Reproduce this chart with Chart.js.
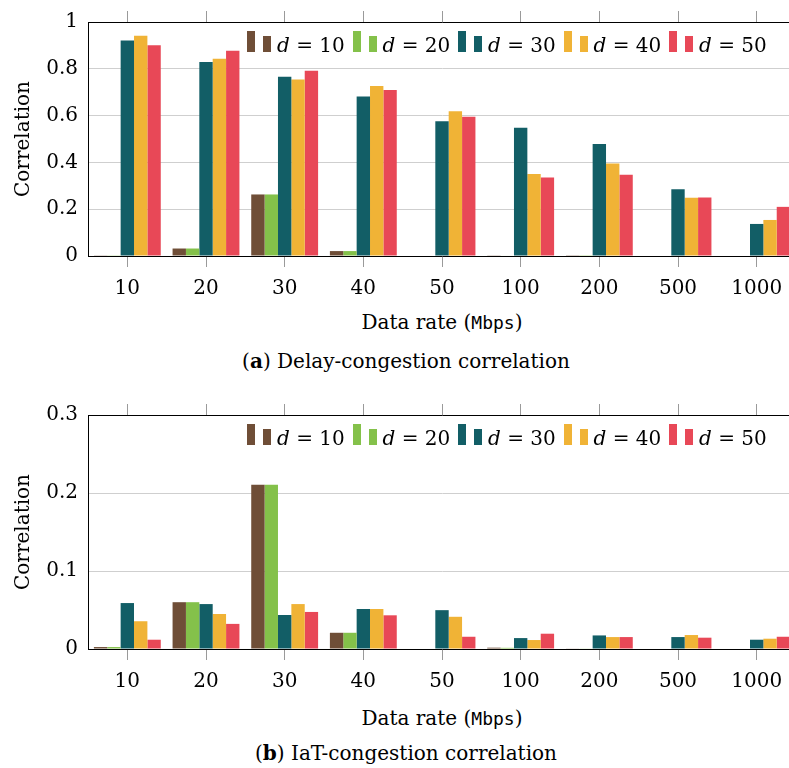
<!DOCTYPE html>
<html>
<head>
<meta charset="utf-8">
<script src="https://cdn.jsdelivr.net/npm/chart.js@4.4.0/dist/chart.umd.min.js"></script>
<style>
html, body { margin: 0; padding: 0; background: #fff; width: 789px; height: 768px; overflow: hidden; }
.panel { position: absolute; left: 0; width: 800px; height: 300px; }
canvas { display: block; }
.txt { position: absolute; font-family: 'DejaVu Serif', serif; font-size: 20px; line-height: 24px; color: #000; white-space: nowrap; transform: translateX(-50%); }
.mono { font-family: 'DejaVu Sans Mono', monospace; font-size: 18px; }
.legend { position: absolute; font-family: 'DejaVu Serif', serif; font-size: 20px; line-height: 24px; white-space: nowrap; }
.entry { display: inline-block; width: 105.5px; }
.sw { display: inline-block; width: 8px; vertical-align: baseline; }
.sw + .sw { margin-left: 8px; margin-right: 6px; }
</style>
</head>
<body>
<div class="panel" style="top:0"><canvas id="delay" width="800" height="300"></canvas></div>
<div class="legend" id="legDelay" style="left:247px;top:31px"></div>
<div class="txt" style="left:442px;top:310px">Data rate (<span class="mono">Mbps</span>)</div>
<div class="txt" style="left:406px;top:349px">(<b>a</b>) Delay-congestion correlation</div>

<div class="panel" style="top:393px"><canvas id="iat" width="800" height="300"></canvas></div>
<div class="legend" id="legIat" style="left:247px;top:424px"></div>
<div class="txt" style="left:442px;top:706px">Data rate (<span class="mono">Mbps</span>)</div>
<div class="txt" style="left:406px;top:741px">(<b>b</b>) IaT-congestion correlation</div>

<script>
var rates = ['10', '20', '30', '40', '50', '100', '200', '500', '1000'];
var dValues = ['10', '20', '30', '40', '50'];
var colors = ['#6f4e37', '#84c14a', '#125e66', '#f0b336', '#e84857'];

// (a) delay-congestion correlation, one array per d
var delayD10 = [0.003, 0.032, 0.263, 0.021, 0.000, 0.003, 0.001, 0.000, 0.000];
var delayD20 = [0.003, 0.032, 0.263, 0.021, 0.000, 0.002, 0.001, 0.000, 0.000];
var delayD30 = [0.921, 0.829, 0.766, 0.682, 0.576, 0.548, 0.479, 0.285, 0.137];
var delayD40 = [0.941, 0.843, 0.754, 0.726, 0.619, 0.350, 0.395, 0.249, 0.154];
var delayD50 = [0.901, 0.877, 0.792, 0.709, 0.595, 0.336, 0.347, 0.250, 0.210];

// (b) IaT-congestion correlation
var iatD10 = [0.0025, 0.0600, 0.2106, 0.0208, 0.0000, 0.0017, 0.0005, 0.0000, 0.0000];
var iatD20 = [0.0025, 0.0600, 0.2106, 0.0208, 0.0000, 0.0015, 0.0005, 0.0000, 0.0000];
var iatD30 = [0.0589, 0.0576, 0.0436, 0.0513, 0.0498, 0.0140, 0.0174, 0.0153, 0.0119];
var iatD40 = [0.0356, 0.0449, 0.0576, 0.0513, 0.0413, 0.0115, 0.0153, 0.0179, 0.0132];
var iatD50 = [0.0119, 0.0322, 0.0475, 0.0432, 0.0157, 0.0196, 0.0153, 0.0145, 0.0157];

var serif = { family: "'DejaVu Serif', serif", size: 20 };

function buildLegend(id) {
    var box = document.getElementById(id);
    dValues.forEach(function(d, i) {
        var e = document.createElement('span');
        e.className = 'entry';
        e.innerHTML = '<span class="sw" style="height:21px;background:' + colors[i] + '"></span>' +
            '<span class="sw" style="height:16px;background:' + colors[i] + '"></span>' +
            '<i>d</i> = ' + d;
        box.appendChild(e);
    });
}

function xAxis(pos, h) {
    return {
        type: 'category', position: pos, offset: true,
        grid: { offset: false, drawOnChartArea: false, tickLength: 11, color: '#9a9a9a' },
        border: { color: '#000', width: 1 },
        ticks: { display: pos === 'bottom', font: serif, color: '#000', padding: 10, maxRotation: 0, autoSkip: false },
        afterFit: function(s) { s.height = h; }
    };
}

function makeChart(id, series, yMax, step) {
    return new Chart(document.getElementById(id), {
        type: 'bar',
        data: {
            labels: rates,
            datasets: series.map(function(s, i) {
                return { label: 'd = ' + dValues[i], data: s, backgroundColor: colors[i], borderWidth: 0,
                         categoryPercentage: 0.85, barPercentage: 1.0 };
            })
        },
        options: {
            responsive: false, animation: false, devicePixelRatio: 1,
            layout: { padding: 0 },
            plugins: { legend: { display: false }, tooltip: { enabled: false } },
            scales: {
                x: xAxis('bottom', 44),
                x2: xAxis('top', 20),
                y: {
                    min: 0, max: yMax,
                    ticks: { stepSize: step, font: serif, color: '#000', padding: 10,
                             callback: function(v) { return String(+v.toFixed(2)); } },
                    grid: { color: '#cfcfcf', drawTicks: false },
                    border: { color: '#000', width: 1 },
                    title: { display: true, text: 'Correlation', font: serif, color: '#000', padding: { top: 12, bottom: 0 } },
                    afterFit: function(s) { s.width = 88; }
                },
                y2: {
                    position: 'right', min: 0, max: yMax,
                    grid: { display: false }, ticks: { display: false },
                    border: { color: '#000', width: 1 },
                    afterFit: function(s) { s.width = 4; }
                }
            }
        }
    });
}

makeChart('delay', [delayD10, delayD20, delayD30, delayD40, delayD50], 1, 0.2);
makeChart('iat', [iatD10, iatD20, iatD30, iatD40, iatD50], 0.3, 0.1);
buildLegend('legDelay');
buildLegend('legIat');
</script>
</body>
</html>
